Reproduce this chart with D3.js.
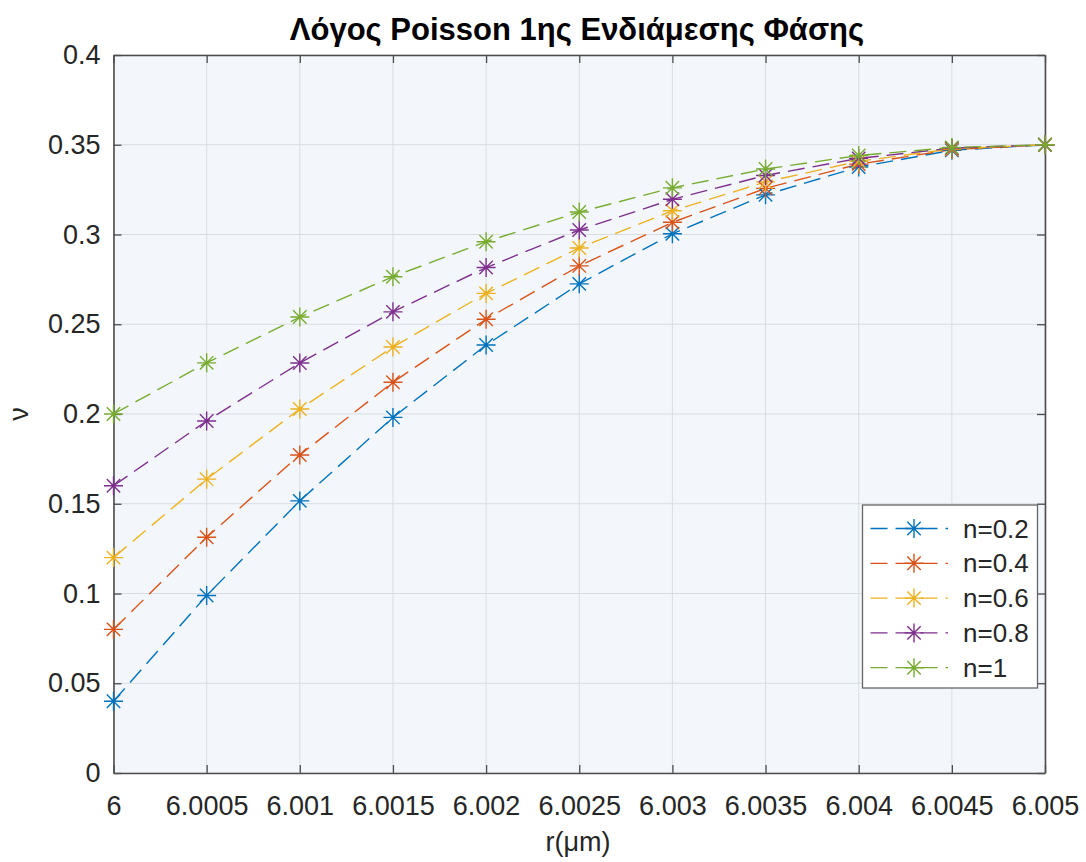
<!DOCTYPE html>
<html>
<head>
<meta charset="utf-8">
<script src="https://cdn.jsdelivr.net/npm/d3@7"></script>
<style>
  html, body { margin: 0; padding: 0; background: #ffffff; }
  svg { display: block; font-family: "Liberation Sans", Arial, sans-serif; }
</style>
</head>
<body>
<svg id="chart" width="1086" height="862"></svg>
<script>
// Radial positions r (μm)
const radii = [6, 6.0005, 6.001, 6.0015, 6.002, 6.0025, 6.003, 6.0035, 6.004, 6.0045, 6.005];

// Poisson ratio ν of the first interphase for each exponent n
const nu_n02 = [0.040, 0.0989, 0.1516, 0.1981, 0.2384, 0.2725, 0.3004, 0.3221, 0.3376, 0.3469, 0.350];
const nu_n04 = [0.080, 0.1313, 0.1772, 0.2177, 0.2528, 0.2825, 0.3068, 0.3257, 0.3392, 0.3473, 0.350];
const nu_n06 = [0.120, 0.1637, 0.2028, 0.2373, 0.2672, 0.2925, 0.3132, 0.3293, 0.3408, 0.3477, 0.350];
const nu_n08 = [0.160, 0.1961, 0.2284, 0.2569, 0.2816, 0.3025, 0.3196, 0.3329, 0.3424, 0.3481, 0.350];
const nu_n1  = [0.200, 0.2285, 0.2540, 0.2765, 0.2960, 0.3125, 0.3260, 0.3365, 0.3440, 0.3485, 0.350];

const seriesNames = ["n=0.2", "n=0.4", "n=0.6", "n=0.8", "n=1"];
const seriesColors = ["#0072BD", "#D95319", "#EDB120", "#7E2F8E", "#77AC30"];

const xTicks = [6, 6.0005, 6.001, 6.0015, 6.002, 6.0025, 6.003, 6.0035, 6.004, 6.0045, 6.005];
const xTickLabels = ["6", "6.0005", "6.001", "6.0015", "6.002", "6.0025", "6.003", "6.0035", "6.004", "6.0045", "6.005"];
const yTicks = [0, 0.05, 0.1, 0.15, 0.2, 0.25, 0.3, 0.35, 0.4];
const yTickLabels = ["0", "0.05", "0.1", "0.15", "0.2", "0.25", "0.3", "0.35", "0.4"];

const series = [nu_n02, nu_n04, nu_n06, nu_n08, nu_n1].map((vals, i) => ({
  name: seriesNames[i],
  color: seriesColors[i],
  points: vals.map((v, j) => ({ r: radii[j], v }))
}));

const svg = d3.select("#chart");
const plot = { left: 113.5, right: 1045, top: 55, bottom: 773 };
const fontSize = 27;
const axisColor = "#4d4d4d";
const gridColor = "#d9dde3";

const x = d3.scaleLinear().domain([6, 6.005]).range([plot.left, plot.right]);
const y = d3.scaleLinear().domain([0, 0.4]).range([plot.bottom, plot.top]);

// Axes background
svg.append("rect")
  .attr("x", plot.left).attr("y", plot.top)
  .attr("width", plot.right - plot.left).attr("height", plot.bottom - plot.top)
  .attr("fill", "#f3f7fb");

// Grid lines
const grid = svg.append("g");
grid.selectAll("line.gx").data(xTicks).join("line")
  .attr("x1", d => x(d)).attr("x2", d => x(d))
  .attr("y1", plot.top).attr("y2", plot.bottom)
  .attr("stroke", gridColor).attr("stroke-width", 1);
grid.selectAll("line.gy").data(yTicks).join("line")
  .attr("x1", plot.left).attr("x2", plot.right)
  .attr("y1", d => y(d)).attr("y2", d => y(d))
  .attr("stroke", gridColor).attr("stroke-width", 1);

// Axes with inward ticks on all four sides
const tickLen = 8;
const bottomAxis = d3.axisBottom(x).tickValues(xTicks)
  .tickFormat((d, i) => xTickLabels[i]).tickSizeInner(-tickLen).tickSizeOuter(0).tickPadding(23);
const topAxis = d3.axisTop(x).tickValues(xTicks).tickFormat("").tickSizeInner(-tickLen).tickSizeOuter(0);
const leftAxis = d3.axisLeft(y).tickValues(yTicks)
  .tickFormat((d, i) => yTickLabels[i]).tickSizeInner(-tickLen).tickSizeOuter(0).tickPadding(13);
const rightAxis = d3.axisRight(y).tickValues(yTicks).tickFormat("").tickSizeInner(-tickLen).tickSizeOuter(0);

function styleAxis(g) {
  g.select(".domain").attr("stroke", axisColor).attr("stroke-width", 1.6);
  g.selectAll(".tick line").attr("stroke", axisColor).attr("stroke-width", 1.3);
  g.selectAll(".tick text")
    .attr("fill", "#262626")
    .style("font-family", "'Liberation Sans', Arial, sans-serif")
    .style("font-size", fontSize + "px");
}

svg.append("g").attr("transform", `translate(0,${plot.bottom})`).call(bottomAxis).call(styleAxis);
svg.append("g").attr("transform", `translate(0,${plot.top})`).call(topAxis).call(styleAxis);
svg.append("g").attr("transform", `translate(${plot.left},0)`).call(leftAxis).call(styleAxis);
svg.append("g").attr("transform", `translate(${plot.right},0)`).call(rightAxis).call(styleAxis);

// Asterisk marker: plus and cross overlaid
function asterisk(g, cx, cy, s, color) {
  const d = s * 0.7071;
  const path = `M${cx - s},${cy}L${cx + s},${cy}M${cx},${cy - s}L${cx},${cy + s}` +
    `M${cx - d},${cy - d}L${cx + d},${cy + d}M${cx - d},${cy + d}L${cx + d},${cy - d}`;
  g.append("path").attr("d", path).attr("stroke", color).attr("stroke-width", 1.4).attr("fill", "none");
}

const line = d3.line().x(d => x(d.r)).y(d => y(d.v));
const dash = "17,8";

const linesG = svg.append("g");
series.forEach(s => {
  linesG.append("path")
    .datum(s.points)
    .attr("d", line)
    .attr("fill", "none")
    .attr("stroke", s.color)
    .attr("stroke-width", 1.4)
    .attr("stroke-dasharray", dash);
});
series.forEach(s => {
  const mg = linesG.append("g");
  s.points.forEach(p => asterisk(mg, x(p.r), y(p.v), 9.5, s.color));
});

// Title
svg.append("text")
  .attr("x", 577)
  .attr("y", 40)
  .attr("text-anchor", "middle")
  .attr("font-weight", "bold")
  .attr("font-size", 31)
  .attr("fill", "#000")
  .text("Λόγος Poisson 1ης Ενδιάμεσης Φάσης");

// Axis labels
svg.append("text")
  .attr("x", 578)
  .attr("y", 851)
  .attr("text-anchor", "middle")
  .attr("font-size", fontSize)
  .attr("fill", "#262626")
  .text("r(μm)");

svg.append("text")
  .attr("transform", `translate(28,${(plot.top + plot.bottom) / 2}) rotate(-90)`)
  .attr("text-anchor", "middle")
  .attr("font-size", fontSize)
  .attr("fill", "#262626")
  .text("ν");

// Legend
const legend = { x: 862.5, y: 505, w: 175, h: 183, rowY0: 528.5, rowStep: 34.8 };
const lg = svg.append("g");
lg.append("rect")
  .attr("x", legend.x).attr("y", legend.y)
  .attr("width", legend.w).attr("height", legend.h)
  .attr("fill", "#ffffff").attr("stroke", "#666").attr("stroke-width", 1.3);
series.forEach((s, i) => {
  const ry = legend.rowY0 + i * legend.rowStep;
  lg.append("line")
    .attr("x1", 870.5).attr("x2", 948).attr("y1", ry).attr("y2", ry)
    .attr("stroke", s.color).attr("stroke-width", 1.3)
    .attr("stroke-dasharray", dash);
  asterisk(lg, 914, ry, 9.5, s.color);
  lg.append("text")
    .attr("x", 963).attr("y", ry)
    .attr("dy", "0.35em")
    .attr("font-size", 26)
    .attr("fill", "#262626")
    .text(s.name);
});
</script>
</body>
</html>
